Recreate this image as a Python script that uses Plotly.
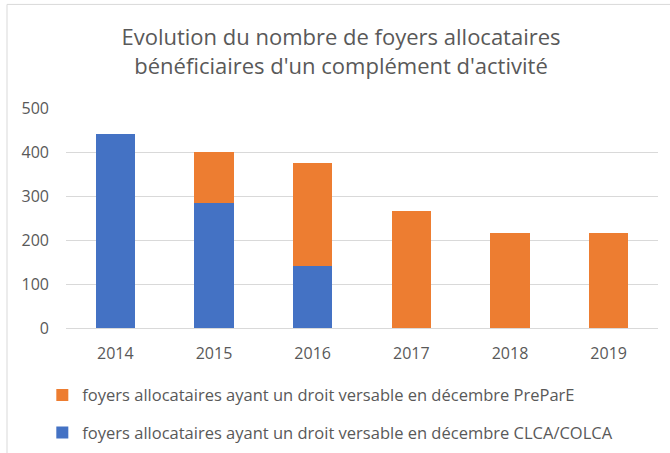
import plotly.graph_objects as go

years = ["2014", "2015", "2016", "2017", "2018", "2019"]
clca_colca = [440, 284, 141, 0, 0, 0]
prepare = [0, 117, 235, 266, 215, 215]

name_clca = "foyers allocataires ayant un droit versable en décembre CLCA/COLCA"
name_prepare = "foyers allocataires ayant un droit versable en décembre PreParE"

title_text = "Evolution du nombre de foyers allocataires<br>bénéficiaires d'un complément d'activité"

text_color = "#595959"
font_family = "Open Sans"

fig = go.Figure()
fig.add_trace(go.Bar(x=years, y=clca_colca, name=name_clca,
                     marker=dict(color="#4472C4", line=dict(width=0)),
                     legendgroup="a", legendrank=2))
fig.add_trace(go.Bar(x=years, y=prepare, name=name_prepare,
                     marker=dict(color="#ED7D31", line=dict(width=0)),
                     legendgroup="b", legendrank=1))

fig.update_layout(
    width=670, height=453,
    barmode="stack", bargap=0.6,
    paper_bgcolor="white", plot_bgcolor="white",
    margin=dict(l=66, r=12, t=108, b=125, autoexpand=False),
    font=dict(family=font_family, color=text_color, size=16),
    title=dict(text=title_text, x=0.509, xref="container", xanchor="center",
               y=0.9, yref="container", yanchor="middle",
               font=dict(size=22, color=text_color, family=font_family)),
    legend=dict(orientation="v", x=-0.04, xanchor="left", y=-0.226, yanchor="top",
                traceorder="grouped", tracegroupgap=13,
                font=dict(size=16.5, color=text_color, family=font_family),
                bgcolor="rgba(0,0,0,0)"),
    showlegend=True,
)
fig.update_yaxes(range=[0, 500], dtick=100, showgrid=True, gridcolor="#d9d9d9", gridwidth=1,
                 zeroline=False, showline=False, ticks="", ticklabelstandoff=16,
                 tickfont=dict(size=16, color=text_color))
fig.update_xaxes(showline=True, linecolor="#d9d9d9", linewidth=1, ticks="",
                 ticklabelstandoff=11, tickfont=dict(size=16, color=text_color))

fig.add_shape(type="rect", xref="paper", yref="paper",
              x0=(7 - 66) / 592, x1=(680 - 66) / 592,
              y0=(327.7 - 460) / 219.4, y1=(327.7 - 5) / 219.4,
              line=dict(color="#d9d9d9", width=1), fillcolor="rgba(0,0,0,0)", layer="below")

fig.write_html("out.html", config={"displayModeBar": False},
               post_script="document.body.style.margin='0';")
